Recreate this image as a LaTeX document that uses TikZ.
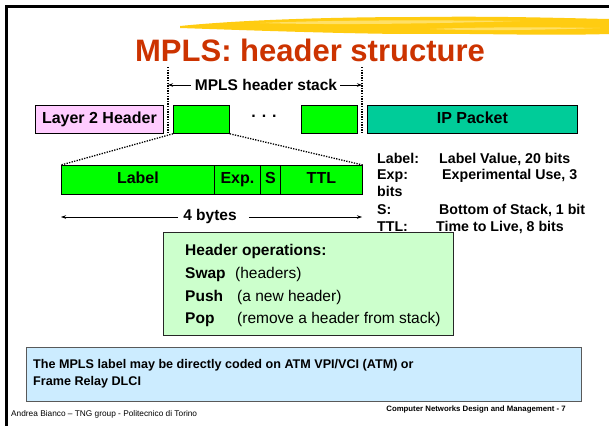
\documentclass[tikz,border=0pt]{standalone}
\usepackage{fontspec}
\setmainfont{Liberation Sans}
\usetikzlibrary{arrows.meta}
\definecolor{titlered}{HTML}{CC3300}
\definecolor{brightgreen}{HTML}{00FF00}
\definecolor{ipgreen}{HTML}{00CC99}
\definecolor{pinkbox}{HTML}{FFCCFF}
\definecolor{opsgreen}{HTML}{CCFFCC}
\definecolor{notebl}{HTML}{CCECFF}
\definecolor{brush}{HTML}{FFCC11}
\definecolor{brushlight}{HTML}{FFE066}
\tikzset{
  fbox/.style={draw=black, line width=0.8pt, inner sep=0pt, anchor=north west,
    text height=11.5pt, text depth=3.5pt,
    font=\fontsize{16}{18}\selectfont\bfseries},
  dotline/.style={line width=1.3pt, dash pattern=on 1.3pt off 1.3pt},
  dimarrow/.style={line width=0.6pt, -{Stealth[length=5pt,width=3.5pt]}},
  sidetxt/.style={anchor=base west, inner sep=0pt, font=\fontsize{14.2}{16}\selectfont\bfseries},
  opstxt/.style={anchor=base west, inner sep=0pt, font=\fontsize{15.5}{17}\selectfont},
  opsbold/.style={opstxt, font=\fontsize{15.5}{17}\selectfont\bfseries},
  notetxt/.style={anchor=base west, inner sep=0pt, font=\fontsize{12.6}{15}\selectfont\bfseries},
}
\begin{document}
\begin{tikzpicture}[x=1pt,y=-1pt]
\useasboundingbox (0,0) rectangle (609,426);
\fill[white] (0,0) rectangle (609,426);
% slide frame
\fill[black] (5,5) rectangle (609,7.5);
\fill[black] (5,5) rectangle (7.5,426);
% brush stroke
\fill[brush] (180,26) .. controls (240,20) and (330,17) .. (420,17)
  .. controls (500,16) and (560,18) .. (609,19) -- (609,34)
  .. controls (540,36) and (470,33) .. (400,34)
  .. controls (320,33) and (240,30) .. (180,28) -- cycle;
\fill[brushlight] (260,23) .. controls (330,20) and (420,20) .. (520,21)
  .. controls (420,24) and (330,25) .. (260,23) -- cycle;
\fill[brushlight] (430,29) .. controls (480,27) and (540,27) .. (600,28)
  .. controls (540,30) and (480,31) .. (430,29) -- cycle;
% title
\node[inner sep=0pt, text=titlered, font=\fontsize{31}{36}\selectfont\bfseries] (title) at (310,50) {MPLS: header structure};
% packet row
\node[fbox, fill=pinkbox, minimum width=128pt, minimum height=28pt] (l2) at (35,105) {Layer 2 Header};
\node[fbox, fill=brightgreen, minimum width=56pt, minimum height=28pt] (h1) at (173,105) {};
\node[inner sep=0pt, font=\fontsize{16}{18}\selectfont\bfseries] (dots) at (264,116) {. . .};
\node[fbox, fill=brightgreen, minimum width=56pt, minimum height=28pt] (h2) at (301,105) {};
\node[fbox, fill=ipgreen, minimum width=210pt, minimum height=28pt] (ip) at (367,105) {IP Packet};
% stack delimiters
\coordinate (sl0) at (168,67);
\coordinate (sl1) at (168,133);
\coordinate (sr0) at (362,67);
\coordinate (sr1) at (362,133);
\draw[dotline] (sl0) -- (sl1);
\draw[dotline] (sr0) -- (sr1);
\node[inner sep=0pt, font=\fontsize{15.5}{17}\selectfont\bfseries] (stack) at (266,85) {MPLS header stack};
\coordinate (sla) at (168,85);
\coordinate (sra) at (362,85);
\draw[dimarrow] (stack.west |- sla) ++(-4,0) -- (sla);
\draw[dimarrow] (stack.east |- sra) ++(3,0) -- (sra);
% fields
\node[fbox, fill=brightgreen, minimum width=153pt, minimum height=29pt] (flabel) at (61,165) {Label};
\node[fbox, fill=brightgreen, minimum width=46pt, minimum height=29pt] (fexp) at (214,165) {Exp.};
\node[fbox, fill=brightgreen, minimum width=20pt, minimum height=29pt] (fs) at (260,165) {S};
\node[fbox, fill=brightgreen, minimum width=82pt, minimum height=29pt] (fttl) at (280,165) {TTL};
\draw[dotline] (h1.south west) -- (flabel.north west);
\draw[dotline] (h1.south east) -- (fttl.north east);
% 4 bytes
\node[inner sep=0pt, font=\fontsize{15.5}{17}\selectfont\bfseries] (bytes) at (210,216) {4 bytes};
\coordinate (bl) at (61,217);
\coordinate (br) at (362,217);
\draw[dimarrow] ([xshift=-5pt]bytes.west |- bl) -- (bl);
\draw[dimarrow] ([xshift=12pt]bytes.east |- br) -- (br);
% side legend
\node[sidetxt] (k1) at (377,163) {Label:};
\node[sidetxt] (v1) at (439,163) {Label Value, 20 bits};
\node[sidetxt] (k2) at (377,179.5) {Exp:};
\node[sidetxt] (v2) at (442,179.5) {Experimental Use, 3};
\node[sidetxt] (v2b) at (377,196) {bits};
\node[sidetxt] (k3) at (377,214) {S:};
\node[sidetxt] (v3) at (439,214) {Bottom of Stack, 1 bit};
\node[sidetxt] (k4) at (377,231) {TTL:};
\node[sidetxt] (v4) at (436,231) {Time to Live, 8 bits};
% header operations
\node[draw=black!85, line width=0.8pt, fill=opsgreen, anchor=north west, minimum width=290pt, minimum height=103pt, inner sep=0pt] (ops) at (163,232) {};
\node[opsbold] (opsh) at (185,255.5) {Header operations:};
\node[opsbold] (swap) at (185,278.5) {Swap};
\node[opstxt] (swapd) at (235,278.5) {(headers)};
\node[opsbold] (push) at (185,301.5) {Push};
\node[opstxt] (pushd) at (237,301.5) {(a new header)};
\node[opsbold] (pop) at (185,323.5) {Pop};
\node[opstxt] (popd) at (237,323.5) {(remove a header from stack)};
% note
\node[draw=black!65, line width=0.8pt, fill=notebl, anchor=north west, minimum width=555pt, minimum height=54pt, inner sep=0pt] (note) at (26,347) {};
\node[notetxt] (n1) at (33,368.5) {The MPLS label may be directly coded on ATM VPI/VCI (ATM) or};
\node[notetxt] (n2) at (33,385.5) {Frame Relay DLCI};
% footer
\node[anchor=base west, inner sep=0pt, font=\fontsize{8.3}{10}\selectfont] (foot1) at (11,416) {Andrea Bianco – TNG group - Politecnico di Torino};
\node[anchor=base east, inner sep=0pt, font=\fontsize{7.8}{9}\selectfont\bfseries] (foot2) at (566,411) {Computer Networks Design and Management - 7};
\end{tikzpicture}
\end{document}
